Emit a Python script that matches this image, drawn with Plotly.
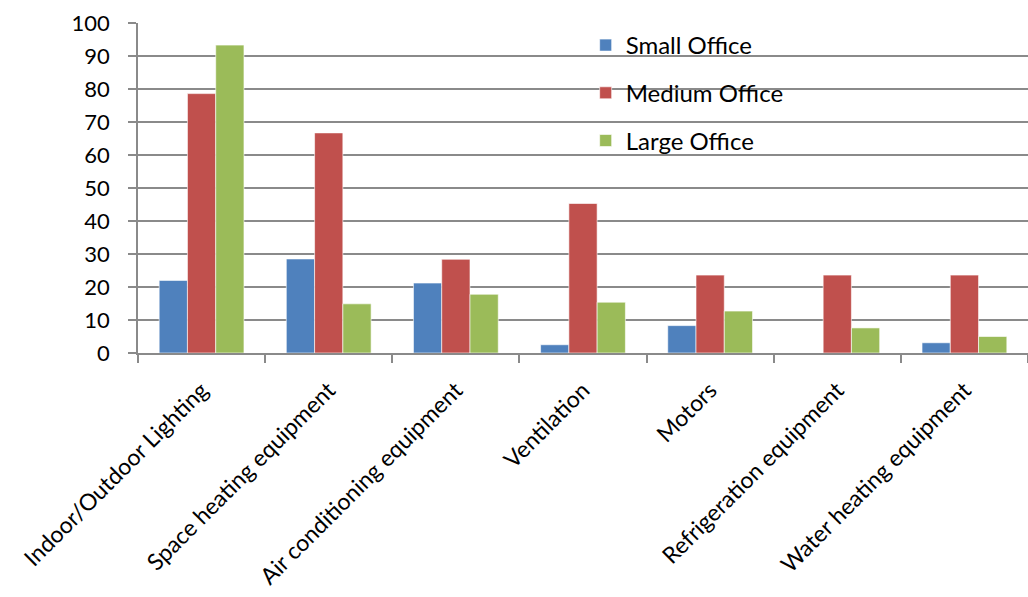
import plotly.graph_objects as go

categories = [
    "Indoor/Outdoor Lighting",
    "Space heating equipment",
    "Air conditioning equipment",
    "Ventilation",
    "Motors",
    "Refrigeration equipment",
    "Water heating equipment",
]
small_office = [22.0, 28.5, 21.2, 2.5, 8.3, 0.0, 3.1]
medium_office = [78.6, 66.7, 28.4, 45.3, 23.6, 23.6, 23.6]
large_office = [93.3, 14.9, 17.8, 15.4, 12.7, 7.6, 5.0]
y_ticks = [0, 10, 20, 30, 40, 50, 60, 70, 80, 90, 100]

series = [
    ("Small Office", small_office, "#4F81BD"),
    ("Medium Office", medium_office, "#C0504D"),
    ("Large Office", large_office, "#9BBB59"),
]

FONT = "Lato, 'Open Sans', sans-serif"
GRID = "#8a8a8a"

fig = go.Figure()
for i, (name, vals, color) in enumerate(series):
    fig.add_trace(go.Bar(
        name=name, x=categories, y=vals,
        marker=dict(color=color, line=dict(color="rgba(255,255,255,0.6)", width=1)),
        legendgroup=f"g{i}",
    ))

# white panel behind the legend that masks the gridlines
fig.add_shape(
    type="rect", xref="paper", yref="paper",
    x0=0.482, x1=0.7685, y0=0.548, y1=1.018,
    fillcolor="white", line=dict(width=0), layer="between",
)

fig.update_layout(
    width=1028, height=597,
    margin=dict(l=138, r=0, t=23, b=244),
    paper_bgcolor="white", plot_bgcolor="white",
    barmode="group", bargap=0.333, bargroupgap=0,
    font=dict(family=FONT, size=22, color="black"),
    showlegend=True,
    legend=dict(
        x=0.503, y=1.0, xanchor="left", yanchor="top",
        bgcolor="rgba(255,255,255,0)",
        font=dict(family=FONT, size=24, color="black"),
        tracegroupgap=13.5, itemwidth=30,
    ),
    xaxis=dict(
        tickangle=-45, showline=True, linecolor=GRID, linewidth=1.5,
        ticks="outside", ticklen=8, tickcolor=GRID, tickwidth=1.5,
        tickson="boundaries", showgrid=False, ticklabelstandoff=13,
        automargin=False,
        tickfont=dict(family=FONT, size=23, color="black"),
    ),
    yaxis=dict(
        range=[0, 100], tickvals=y_ticks, showline=True, linecolor=GRID,
        linewidth=1.5, ticks="outside", ticklen=8, tickcolor=GRID, tickwidth=1.5,
        showgrid=True, gridcolor=GRID, gridwidth=1.5, zeroline=False,
        ticklabelstandoff=14, automargin=False,
        tickfont=dict(family=FONT, size=22, color="black"),
    ),
)

fig.write_html("out.html")
